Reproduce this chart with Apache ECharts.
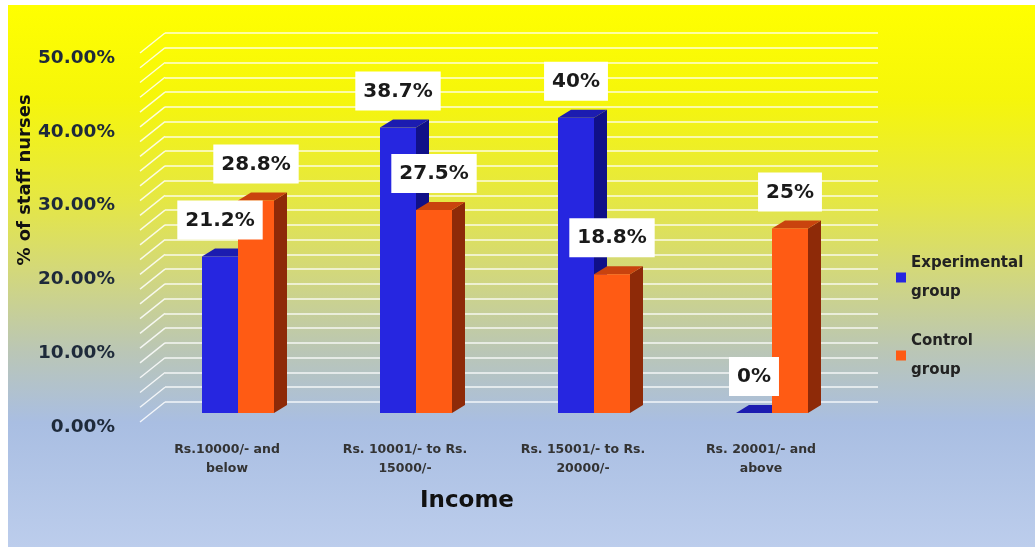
<!DOCTYPE html>
<html>
<head>
<meta charset="utf-8">
<script src="https://cdn.jsdelivr.net/npm/echarts@6/dist/echarts.min.js"></script>
<style>
  html, body { margin: 0; padding: 0; background: #ffffff; }
  #chart { width: 1035px; height: 547px; }
</style>
</head>
<body>
<div id="chart"></div>
<script>
// Income brackets of the staff nurses
const categories = [
  'Rs.10000/- and\nbelow',
  'Rs. 10001/- to Rs.\n15000/-',
  'Rs. 15001/- to Rs.\n20000/-',
  'Rs. 20001/- and\nabove'
];
// Percentage of staff nurses in each bracket
const experimental = [21.2, 38.7, 40, 0];
const control = [28.8, 27.5, 18.8, 25];
const seriesNames = ['Experimental group', 'Control group'];

// Value axis range (percent)
const yMin = 0, yMax = 50, yStep = 10, wallStep = 2;

const FONT = 'DejaVu Sans';
const BAR_W = 36;      // width of a bar's front face
const DX = 13, DY = -8; // depth offset of bar side/top faces
const WALL_DX = -25, WALL_DY = 20; // side wall run from back wall to front edge
const LABEL_GAP = 17;

const palette = [
  { front: '#2626e0', side: '#101088', top: '#1c1cb0' },
  { front: '#ff5b14', side: '#8e2a08', top: '#c9430e' }
];

function barRenderer(slot, colors) {
  return function (params, api) {
    const idx = api.value(0);
    const val = api.value(1);
    const top = api.coord([idx, val]);
    const base = api.coord([idx, 0]);
    const x0 = top[0] + (slot === 0 ? -BAR_W : 0);
    const x1 = x0 + BAR_W;
    const yT = top[1], yB = base[1];
    return {
      type: 'group',
      children: [
        { type: 'polygon', shape: { points: [[x1, yT], [x1 + DX, yT + DY], [x1 + DX, yB + DY], [x1, yB]] },
          style: { fill: colors.side } },
        { type: 'polygon', shape: { points: [[x0, yT], [x0 + DX, yT + DY], [x1 + DX, yT + DY], [x1, yT]] },
          style: { fill: colors.top } },
        { type: 'rect', shape: { x: x0, y: yT, width: BAR_W, height: yB - yT },
          style: { fill: colors.front } },
        { type: 'text', z2: 100, x: (x0 + x1) / 2, y: yT - LABEL_GAP,
          style: {
            text: val + '%', align: 'center', verticalAlign: 'bottom',
            font: 'bold 20px "' + FONT + '"', fill: '#1a1a1a',
            backgroundColor: '#ffffff', padding: [10, 8, 9, 8]
          } }
      ]
    };
  };
}

// Back wall side edges: short slanted lines joining each wall gridline to the front edge
function sideWallRenderer(params, api) {
  const children = [];
  for (let v = yMin; v <= yMax + 1e-9; v += wallStep) {
    const p = api.coord([0, v]);
    children.push({
      type: 'line',
      shape: { x1: p[0], y1: p[1], x2: p[0] + WALL_DX, y2: p[1] + WALL_DY },
      style: { stroke: 'rgba(255,255,255,0.85)', lineWidth: 1.5 }
    });
  }
  return { type: 'group', children: children };
}

const chart = echarts.init(document.getElementById('chart'), null, { renderer: 'canvas' });

const option = {
  backgroundColor: '#ffffff',
  animation: false,
  graphic: {
    elements: [
      {
        type: 'rect', z: -10, silent: true,
        shape: { x: 8, y: 5, width: 1027, height: 542 },
        style: {
          fill: new echarts.graphic.LinearGradient(0, 0, 0, 1, [
            { offset: 0, color: '#ffff00' },
            { offset: 0.17, color: '#f6f60a' },
            { offset: 0.36, color: '#e5e744' },
            { offset: 0.49, color: '#d3d87a' },
            { offset: 0.64, color: '#bac6b6' },
            { offset: 0.77, color: '#a9bee2' },
            { offset: 1, color: '#bccdec' }
          ])
        }
      },
      {
        type: 'text', z: 10, x: 25, y: 180, rotation: Math.PI / 2,
        style: {
          text: '% of staff nurses', align: 'center', verticalAlign: 'middle',
          font: 'bold 18px "' + FONT + '"', fill: '#111111'
        }
      },
      {
        type: 'text', z: 10, x: 467, y: 501,
        style: {
          text: 'Income', align: 'center', verticalAlign: 'middle',
          font: 'bold 23px "' + FONT + '"', fill: '#111111'
        }
      }
    ]
  },
  legend: {
    data: seriesNames,
    orient: 'vertical',
    left: 891,
    top: 229,
    icon: 'rect',
    itemWidth: 10,
    itemHeight: 10,
    itemGap: -9,
    formatter: function (name) { return name.replace(' ', '\n'); },
    textStyle: {
      fontFamily: FONT, fontWeight: 'bold', fontSize: 15, color: '#222222',
      lineHeight: 29, padding: [29, 0, 0, 0]
    }
  },
  grid: [
    // back wall
    { left: 165, top: 33, width: 713, height: 369 },
    // plane the bars stand in
    { left: 149, top: 44, width: 712, height: 369 },
    // front edge carrying the axis labels
    { left: 138, top: 58, width: 712, height: 369 }
  ],
  xAxis: [
    { gridIndex: 0, type: 'value', min: 0, max: 1, show: false },
    { gridIndex: 1, type: 'category', data: categories, show: false },
    {
      gridIndex: 2, type: 'category', data: categories,
      axisLine: { show: false }, axisTick: { show: false },
      axisLabel: {
        margin: 13, fontFamily: FONT, fontWeight: 'bold', fontSize: 12.5,
        color: '#333333', lineHeight: 19, interval: 0
      }
    }
  ],
  yAxis: [
    {
      gridIndex: 0, type: 'value', min: yMin, max: yMax, interval: wallStep,
      axisLine: { show: false }, axisTick: { show: false }, axisLabel: { show: false },
      splitLine: { show: true, lineStyle: { color: 'rgba(255,255,255,0.85)', width: 1.5 } }
    },
    { gridIndex: 1, type: 'value', min: yMin, max: yMax, show: false, splitLine: { show: false } },
    {
      gridIndex: 2, type: 'value', min: yMin, max: yMax, interval: yStep,
      axisLine: { show: false }, axisTick: { show: false }, splitLine: { show: false },
      axisLabel: {
        margin: 23, fontFamily: FONT, fontWeight: 'bold', fontSize: 18.5, color: '#1e2a3a',
        formatter: function (v) { return v.toFixed(2) + '%'; }
      }
    }
  ],
  series: [
    {
      type: 'custom', name: 'wall-edge', xAxisIndex: 0, yAxisIndex: 0, z: 1, silent: true,
      renderItem: sideWallRenderer, data: [[0, 0]]
    },
    {
      type: 'custom', name: seriesNames[0], xAxisIndex: 1, yAxisIndex: 1, z: 3,
      itemStyle: { color: palette[0].front },
      encode: { x: 0, y: 1 },
      renderItem: barRenderer(0, palette[0]),
      data: experimental.map(function (v, i) { return [i, v]; })
    },
    {
      type: 'custom', name: seriesNames[1], xAxisIndex: 1, yAxisIndex: 1, z: 3,
      itemStyle: { color: palette[1].front },
      encode: { x: 0, y: 1 },
      renderItem: barRenderer(1, palette[1]),
      data: control.map(function (v, i) { return [i, v]; })
    }
  ]
};

chart.setOption(option);
</script>
</body>
</html>
